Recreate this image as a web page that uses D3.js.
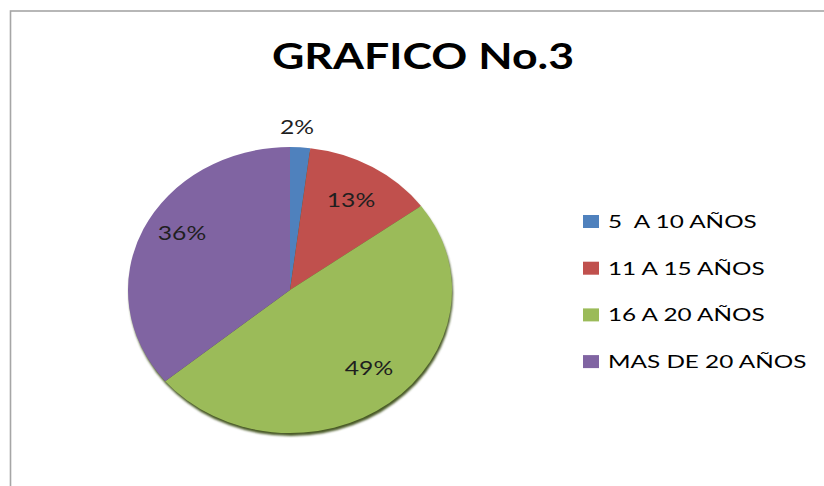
<!DOCTYPE html>
<html>
<head>
<meta charset="utf-8">
<script src="https://cdn.jsdelivr.net/npm/d3@7"></script>
<style>
  body { margin: 0; background: #fff; }
  text { font-family: Lato, "Open Sans", sans-serif; }
</style>
</head>
<body>
<script>
var categories = ['5  A 10 AÑOS', '11 A 15 AÑOS', '16 A 20 AÑOS', 'MAS DE 20 AÑOS'];
var values = [2, 13, 49, 36];
var labels = ['2%', '13%', '49%', '36%'];
var colors = ['#4f81bd', '#c0504d', '#9bbb59', '#8064a2'];
var title = 'GRAFICO No.3';

var width = 824, height = 486;
var cx = 290, cy = 290, rx = 162, ry = 143;
var r = 150;
var stretch = 1.3; // the original picture is widened horizontally

var svg = d3.select('body')
  .append('svg')
  .attr('width', width)
  .attr('height', height);

// chart border, cut off on the right and bottom
svg.append('rect')
  .attr('x', 10.5)
  .attr('y', 11)
  .attr('width', width + 10)
  .attr('height', height + 10)
  .attr('fill', '#fff')
  .attr('stroke', '#a6a6a6')
  .attr('stroke-width', 1.6);

svg.append('text')
  .attr('transform', 'translate(423,69) scale(1.24,1)')
  .attr('text-anchor', 'middle')
  .attr('font-size', 36)
  .attr('font-weight', 'bold')
  .attr('fill', '#000')
  .text(title);

var defs = svg.append('defs');
defs.append('filter')
  .attr('id', 'shadow')
  .attr('x', '-10%').attr('y', '-10%').attr('width', '120%').attr('height', '120%')
  .append('feGaussianBlur')
  .attr('stdDeviation', 1.2);

var pie = d3.pie().sort(null).value(function(d) { return d; });
var arcs = pie(values);
var arc = d3.arc().innerRadius(0).outerRadius(r);

// shadow under the pie
svg.append('ellipse')
  .attr('cx', cx + 1)
  .attr('cy', cy + 3)
  .attr('rx', rx)
  .attr('ry', ry)
  .attr('fill', '#4a5a28')
  .attr('filter', 'url(#shadow)');

var pieGroup = svg.append('g')
  .attr('transform', 'translate(' + cx + ',' + cy + ') scale(' + (rx / r) + ',' + (ry / r) + ')');

pieGroup.selectAll('path')
  .data(arcs)
  .enter()
  .append('path')
  .attr('d', arc)
  .attr('fill', function(d, i) { return colors[i]; });

// data labels (2% sits outside the pie)
var labelPos = [[297, 134], [351, 207], [369, 375], [182, 240]];
svg.selectAll('.lbl')
  .data(arcs)
  .enter()
  .append('text')
  .attr('class', 'lbl')
  .attr('transform', function(d, i) {
    return 'translate(' + labelPos[i][0] + ',' + labelPos[i][1] + ') scale(' + stretch + ',1)';
  })
  .attr('text-anchor', 'middle')
  .attr('font-size', 19)
  .attr('fill', '#1f1f1f')
  .text(function(d, i) { return labels[i]; });

// legend
var legend = svg.selectAll('.leg')
  .data(categories)
  .enter()
  .append('g')
  .attr('class', 'leg')
  .attr('transform', function(d, i) { return 'translate(583,' + (228 + i * 46.7) + ')'; });

legend.append('rect')
  .attr('y', -13)
  .attr('width', 16)
  .attr('height', 13)
  .attr('fill', function(d, i) { return colors[i]; });

legend.append('text')
  .attr('transform', 'translate(25,0) scale(1.35,1)')
  .attr('font-size', 18)
  .attr('fill', '#000')
  .style('white-space', 'pre')
  .text(function(d) { return d; });
</script>
</body>
</html>
